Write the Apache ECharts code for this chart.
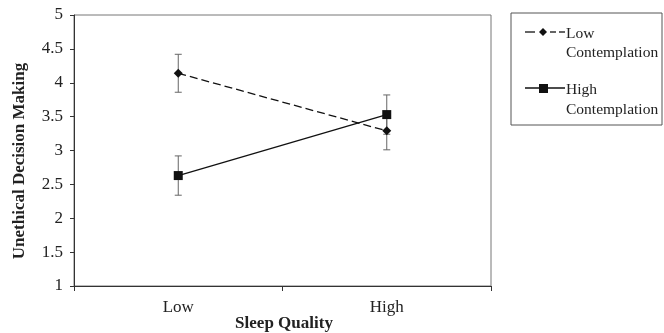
<!DOCTYPE html>
<html><head><meta charset="utf-8">
<script src="https://cdn.jsdelivr.net/npm/echarts@6/dist/echarts.min.js"></script>
<style>html,body{margin:0;padding:0;background:#fff}#c{width:664px;height:333px}</style>
</head><body><div id="c"></div>
<script>
const categories = ['Low', 'High'];
const lowContemplation = [4.14, 3.29];
const lowContemplationErr = [0.28, 0.28];
const highContemplation = [2.63, 3.53];
const highContemplationErr = [0.29, 0.29];
const yTicks = [1, 1.5, 2, 2.5, 3, 3.5, 4, 4.5, 5];

const chart = echarts.init(document.getElementById('c'));
const font = 'Liberation Serif, Times New Roman, serif';

function errData(vals, errs) {
  return vals.map((v, i) => [i, v - errs[i], v + errs[i]]);
}
function errRender(params, api) {
  const x = api.value(0);
  const lo = api.coord([x, api.value(1)]);
  const hi = api.coord([x, api.value(2)]);
  const w = 3.5;
  const st = { stroke: '#666', lineWidth: 1 };
  return { type: 'group', children: [
    { type: 'line', shape: { x1: lo[0], y1: lo[1], x2: hi[0], y2: hi[1] }, style: st },
    { type: 'line', shape: { x1: lo[0]-w, y1: lo[1], x2: lo[0]+w, y2: lo[1] }, style: st },
    { type: 'line', shape: { x1: hi[0]-w, y1: hi[1], x2: hi[0]+w, y2: hi[1] }, style: st }
  ]};
}

chart.setOption({
  animation: false,
  grid: { left: 74, right: 173, top: 15, bottom: 47, show: true, borderColor: '#777', borderWidth: 1,
    containLabel: false, outerBoundsMode: 'none' },
  xAxis: {
    type: 'category', data: categories, boundaryGap: true,
    axisLine: { lineStyle: { color: '#333' } },
    axisTick: { show: true, length: 5, lineStyle: { color: '#333' } },
    axisLabel: { fontFamily: font, fontSize: 17, color: '#222', margin: 13 }
  },
  yAxis: {
    type: 'value', min: 1, max: 5, interval: 0.5,
    axisLine: { show: true, lineStyle: { color: '#333' } },
    axisTick: { show: true, length: 4, lineStyle: { color: '#333' } },
    splitLine: { show: false },
    axisLabel: { fontFamily: font, fontSize: 17, color: '#222', margin: 11,
      formatter: v => String(yTicks.find(t => Math.abs(t - v) < 1e-9) ?? v) }
  },
  series: [
    { type: 'custom', renderItem: errRender, data: errData(lowContemplation, lowContemplationErr), z: 1 },
    { type: 'custom', renderItem: errRender, data: errData(highContemplation, highContemplationErr), z: 1 },
    { name: 'Low Contemplation', type: 'line', data: lowContemplation, symbol: 'diamond', symbolSize: 9,
      itemStyle: { color: '#111' }, lineStyle: { color: '#111', width: 1.3, type: [8, 4] }, z: 3 },
    { name: 'High Contemplation', type: 'line', data: highContemplation, symbol: 'rect', symbolSize: 9,
      itemStyle: { color: '#111' }, lineStyle: { color: '#111', width: 1.3 }, z: 3 }
  ],
  graphic: [
    { type: 'text', x: 20, y: 161, rotation: Math.PI / 2,
      style: { text: 'Unethical Decision Making', font: 'bold 17px ' + font, fill: '#222',
        align: 'center', verticalAlign: 'middle' } },
    { type: 'text', x: 284, y: 324,
      style: { text: 'Sleep Quality', font: 'bold 17px ' + font, fill: '#222',
        align: 'center', verticalAlign: 'middle' } },
    { type: 'rect', shape: { x: 511, y: 13, width: 151, height: 112 },
      style: { fill: 'none', stroke: '#555', lineWidth: 1 } },
    { type: 'line', shape: { x1: 525, y1: 32, x2: 535, y2: 32 }, style: { stroke: '#111', lineWidth: 1.3 } },
    { type: 'line', shape: { x1: 550, y1: 32, x2: 556, y2: 32 }, style: { stroke: '#111', lineWidth: 1.3 } },
    { type: 'line', shape: { x1: 559, y1: 32, x2: 565, y2: 32 }, style: { stroke: '#111', lineWidth: 1.3 } },
    { type: 'polygon', shape: { points: [[543, 28], [547, 32], [543, 36], [539, 32]] }, style: { fill: '#111' } },
    { type: 'text', x: 566, y: 24, style: { text: 'Low\nContemplation', font: '15.5px ' + font, fill: '#222', lineHeight: 19 } },
    { type: 'line', shape: { x1: 525, y1: 88, x2: 565, y2: 88 }, style: { stroke: '#111', lineWidth: 1.3 } },
    { type: 'rect', shape: { x: 539, y: 84, width: 9, height: 9 }, style: { fill: '#111' } },
    { type: 'text', x: 566, y: 80, style: { text: 'High\nContemplation', font: '15.5px ' + font, fill: '#222', lineHeight: 20 } }
  ]
});
</script></body></html>
